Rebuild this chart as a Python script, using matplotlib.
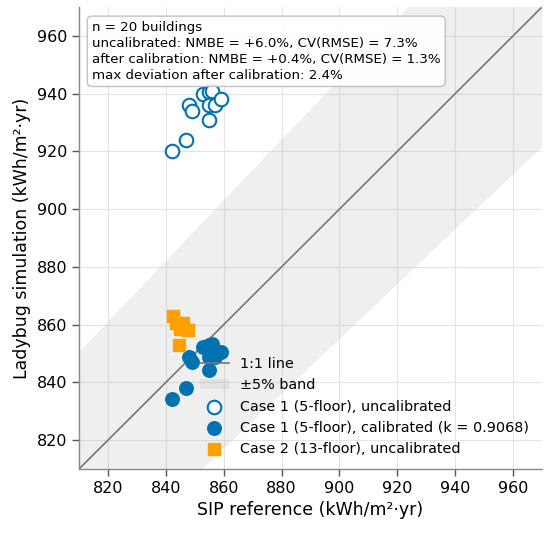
import matplotlib
matplotlib.use("Agg")
import matplotlib.pyplot as plt
import numpy as np

# values (kWh/m2.yr)
case1_sip = [842, 847, 848, 849, 853, 855, 856, 855, 857, 859, 855]
case1_uncal = [920, 924, 936, 934, 940, 940.5, 941, 936, 936, 938, 931]
case1_cal = [834.3, 837.9, 848.8, 847.0, 852.4, 852.8, 853.3, 848.8, 848.8, 850.6, 844.2]

case2_sip = [842.5, 843.5, 846, 847.5, 845, 844.5]
case2_uncal = [863, 860.5, 860.5, 858, 858.5, 853]

lims = [810, 970]
ticks = [820, 840, 860, 880, 900, 920, 940, 960]
band = 0.05

stats_text = ("n = 20 buildings\n"
              "uncalibrated: NMBE = +6.0%, CV(RMSE) = 7.3%\n"
              "after calibration: NMBE = +0.4%, CV(RMSE) = 1.3%\n"
              "max deviation after calibration: 2.4%")

blue = "#0072B2"
orange = "#FFA000"

plt.rcParams["font.family"] = "DejaVu Sans"

fig = plt.figure(figsize=(5.5, 5.33), dpi=100)
ax = fig.add_axes([0.1436, 0.12, 0.842, 0.867])

xx = np.array(lims, dtype=float)
ax.fill_between(xx, xx * (1 - band), xx * (1 + band), color="#b0b0b0", alpha=0.2,
                lw=0, zorder=1, label="±5% band")
ax.plot(xx, xx, color="#777777", lw=1.2, zorder=2, label="1:1 line")

ax.scatter(case1_sip, case1_uncal, s=95, facecolors="white", edgecolors=blue,
           linewidths=1.5, zorder=3, label="Case 1 (5-floor), uncalibrated")
ax.scatter(case1_sip, case1_cal, s=95, color=blue, zorder=3,
           label="Case 1 (5-floor), calibrated (k = 0.9068)")
ax.scatter(case2_sip, case2_uncal, s=80, marker="s", color=orange, zorder=3,
           label="Case 2 (13-floor), uncalibrated")

ax.set_xlim(lims)
ax.set_ylim(lims)
ax.set_xticks(ticks)
ax.set_yticks(ticks)
ax.tick_params(labelsize=11.5, length=5, width=1, color="#555555")
ax.grid(True, color="#e4e4e4", lw=0.8)
ax.set_axisbelow(True)
for side in ["top", "right"]:
    ax.spines[side].set_visible(False)
for side in ["left", "bottom"]:
    ax.spines[side].set_color("#888888")
    ax.spines[side].set_linewidth(1.0)

ax.set_xlabel("SIP reference (kWh/m²·yr)", fontsize=12.5)
ax.set_ylabel("Ladybug simulation (kWh/m²·yr)", fontsize=12.5)

handles, labels = ax.get_legend_handles_labels()
order = [1, 0, 2, 3, 4]
ax.legend([handles[i] for i in order], [labels[i] for i in order],
          loc="lower right", frameon=False, fontsize=10.4)

ax.text(0.028, 0.97, stats_text, transform=ax.transAxes, va="top", ha="left",
        fontsize=9.6, linespacing=1.3,
        bbox=dict(boxstyle="round,pad=0.35", facecolor="white", edgecolor="#bbbbbb",
                  alpha=0.9))

fig.savefig("out.png", dpi=100)
